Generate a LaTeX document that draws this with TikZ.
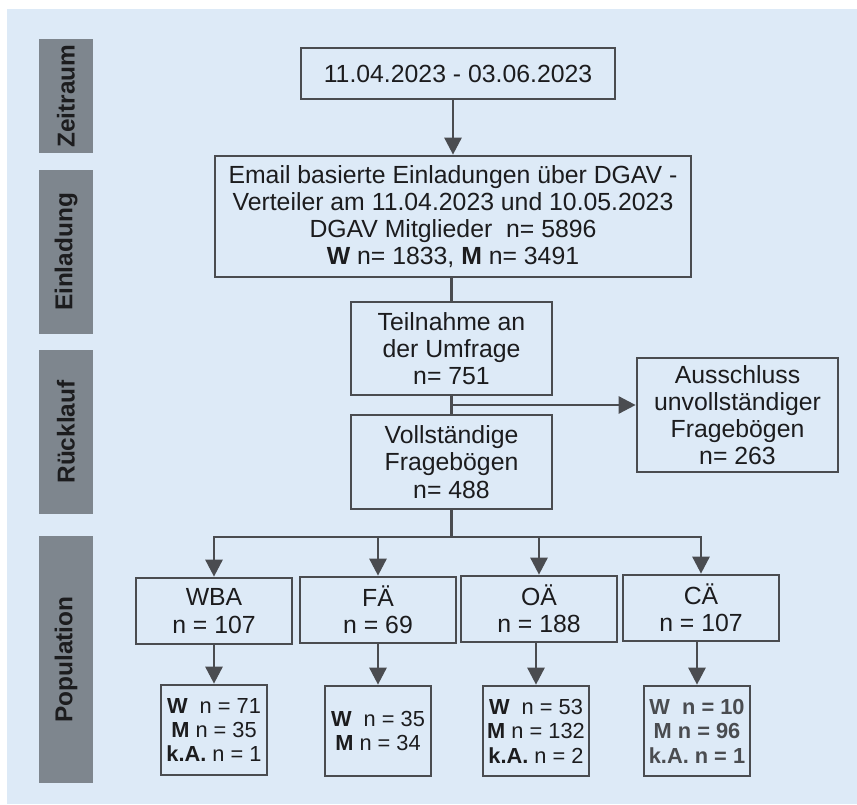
\documentclass[tikz,border=0pt]{standalone}
\usepackage{fontspec}
\setmainfont{Liberation Sans}
\usepackage{xcolor}
\usepackage{tikz}
\usetikzlibrary{arrows.meta,calc}
\definecolor{panelblue}{RGB}{221,234,247}
\definecolor{bargray}{RGB}{126,134,142}
\definecolor{linegray}{RGB}{74,76,80}
\definecolor{textdark}{RGB}{28,28,30}

\begin{document}
\begin{tikzpicture}[x=0.5pt, y=-0.5pt,
  flowbox/.style={draw=linegray, line width=1.35pt, align=center, inner sep=0pt, text=textdark, font=\fontsize{12.4}{13.6}\selectfont},
  popbox/.style={flowbox, minimum width=78pt, minimum height=33pt},
  subbox/.style={flowbox, font=\fontsize{10.9}{12.2}\selectfont, minimum width=53pt, minimum height=45pt},
  link/.style={draw=linegray, line width=1.35pt},
  arr/.style={link, -{Triangle[length=8.5pt,width=8.5pt]}}]
\useasboundingbox (0,0) rectangle (857,804);
\fill[panelblue] (7,9) rectangle (857,804);
\begin{scope}
  \foreach \name/\stage/\ytop/\ybot in {
    zeit/Zeitraum/39/153,
    einl/Einladung/170/334,
    rueck/Rücklauf/350/514,
    popu/Population/536/783
  } {
    \fill[bargray] (39,\ytop) rectangle (93,\ybot);
    \node[rotate=90, text=textdark, font=\bfseries\fontsize{12.2}{14}\selectfont] (\name) at (66,{(\ytop+\ybot)/2}) {\stage};
  }
\end{scope}

\node[flowbox, minimum width=157pt, minimum height=25.5pt] (date) at (458,73.5) {11.04.2023 - 03.06.2023};
\node[flowbox, minimum width=238pt, minimum height=60.5pt] (email) at (453,216.5) {Email basierte Einladungen über DGAV -\\Verteiler am 11.04.2023 und 10.05.2023\\DGAV Mitglieder~ n= 5896\\\textbf{W} n= 1833, \textbf{M} n= 3491};
\node[flowbox, minimum width=100.5pt, minimum height=46.5pt] (teil) at (451.5,348.5) {Teilnahme an\\der Umfrage\\n= 751};
\node[flowbox, minimum width=100.5pt, minimum height=47pt] (voll) at (451.5,462) {Vollständige\\Fragebögen\\n= 488};
\node[flowbox, minimum width=100.5pt, minimum height=57pt] (aus) at (737.5,415) {Ausschluss\\unvollständiger\\Fragebögen\\n= 263};

\node[popbox] (wba) at (214,611) {WBA\\n = 107};
\node[popbox] (fa) at (378,610) {FÄ\\n = 69};
\node[popbox] (oa) at (539,609) {OÄ\\n = 188};
\node[popbox] (ca) at (701,608) {CÄ\\n = 107};

\node[subbox] (wbasub) at (214,730) {\textbf{W}\ \ n = 71\\\textbf{M} n = 35\\\textbf{k.A.} n = 1};
\node[subbox] (fasub) at (378,731) {\textbf{W}\ \ n = 35\\\textbf{M} n = 34};
\node[subbox] (oasub) at (536,731) {\textbf{W}\ \ n = 53\\\textbf{M} n = 132\\\textbf{k.A.} n = 2};
\node[subbox, text=linegray, font=\bfseries\fontsize{10.9}{12.2}\selectfont] (casub) at (697,731) {W\ \ n = 10\\M n = 96\\k.A. n = 1};

\draw[arr] (email.north |- date.south) -- (email.north);
\draw[link] (teil.north |- email.south) -- (teil.north);
\draw[link] (teil) -- (voll);
\coordinate (split) at ($(teil.south)!0.5!(voll.north)$);
\draw[arr] (split) -- (split -| aus.west);
\coordinate (bus) at (451.5,537);
\draw[link] (voll.south) -- (bus);
\foreach \grp in {wba,fa,oa,ca}
  \draw[arr] (bus) -| (\grp.north);
\foreach \grp in {wba,fa,oa,ca}
  \draw[arr] (\grp.south -| \grp sub.north) -- (\grp sub.north);
\end{tikzpicture}
\end{document}
